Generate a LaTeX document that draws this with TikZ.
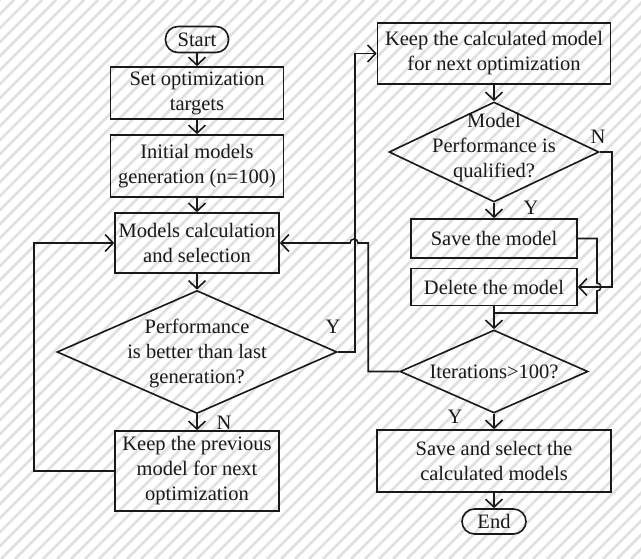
\documentclass[tikz,border=0pt]{standalone}
\usepackage{fontspec}
\setmainfont{Liberation Serif}
\usetikzlibrary{arrows.meta,shapes.geometric}

\begin{document}
\begin{tikzpicture}[x=1pt,y=-1pt,
  ink/.style={draw=black!90,line width=1.6pt},
  flow/.style={ink},
  arr/.style={ink,-{Straight Barb[length=8pt,width=17pt,line width=1.6pt]}},
  txt/.style={inner sep=0pt,align=center,text=black!90,
    font=\fontsize{20.5}{25}\selectfont},
  box/.style={txt,ink,rectangle},
  term/.style={txt,ink,rectangle,rounded corners=12.5pt},
  decision/.style={ink,diamond,inner sep=0pt},
  lbl/.style={txt},
  hatch/.style={draw=gray!24,line width=2.6pt}
]
% hatched paper background
\fill[white] (0,0) rectangle (641,559);
\begin{scope}
  \clip (0,0) rectangle (641,559);
  \foreach \c in {0,14,...,1218}
    \draw[hatch] (\c,0) -- ({\c-559},559);
\end{scope}
\useasboundingbox (0,0) rectangle (641,559);

% left column
\node[term,minimum width=63pt,minimum height=26pt] (start) at (197,39.5) {Start};
\node[box,minimum width=173pt,minimum height=52pt] (set) at (197,93) {Set optimization\\targets};
\node[box,minimum width=173pt,minimum height=62pt] (init) at (197,166) {Initial models\\generation (n=100)};
\node[box,minimum width=164pt,minimum height=60pt] (calc) at (197,243) {Models calculation\\and selection};
\node[decision,minimum width=280pt,minimum height=123pt] (dec1) at (197,352) {};
\node[txt] (dec1t) at (197,353) {Performance\\is better than last\\generation?};
\node[box,minimum width=164pt,minimum height=80pt] (prev) at (197,471) {Keep the previous\\model for next\\optimization};

% right column
\node[box,minimum width=233pt,minimum height=61pt] (keep) at (494,53.5) {Keep the calculated model\\for next optimization};
\node[decision,minimum width=210pt,minimum height=100pt] (dec2) at (494,152) {};
\node[txt] (dec2t) at (494,148) {Model\\Performance is\\qualified?};
\node[box,minimum width=166pt,minimum height=39pt] (save) at (494,238.5) {Save the model};
\node[box,minimum width=166pt,minimum height=37pt] (del) at (494,287) {Delete the model};
\node[decision,minimum width=188pt,minimum height=83pt] (dec3) at (494,371.5) {};
\node[txt] (dec3t) at (494,372) {Iterations>100?};
\node[box,minimum width=234pt,minimum height=62pt] (final) at (494,461) {Save and select the\\calculated models};
\node[term,minimum width=64pt,minimum height=25pt] (end) at (494,521.5) {End};

% branch labels
\node[lbl] (y1) at (333,327) {Y};
\node[lbl] (n1) at (224,423) {N};
\node[lbl] (n2) at (598,137) {N};
\node[lbl] (y2) at (531,208) {Y};
\node[lbl] (y3) at (455,417) {Y};

% hop points and junctions
\coordinate (hopA) at (358,243);
\coordinate (hopB) at (597,283);
\coordinate (merge) at (494,313);

% straight flow
\draw[arr] (start) -- (set);
\draw[arr] (set) -- (init);
\draw[arr] (init) -- (calc);
\draw[arr] (calc) -- (dec1);
\draw[arr] (dec1) -- (prev);
\draw[arr] (keep) -- (dec2);
\draw[arr] (dec2) -- (save);
\draw[arr] (del) -- (dec3);
\draw[arr] (dec3) -- (final);
\draw[arr] (final) -- (end);

% loops and branches
\draw[arr] (prev.west) -- ++(-80,0) |- (calc.west);
\draw[arr] (dec1.east) -- ++(17,0) |- (keep.west);
\draw[arr] (dec3.west) -- ++(-31,0) |- (hopA)
  arc[start angle=0,end angle=180,radius=4pt] -- (calc.east);
\draw[arr] (dec2.east) -- ++(12,0) |- (del.east);
\draw[flow] (save.east) -| (hopB)
  arc[start angle=90,end angle=-90,radius=4pt] |- (merge);
\end{tikzpicture}
\end{document}
